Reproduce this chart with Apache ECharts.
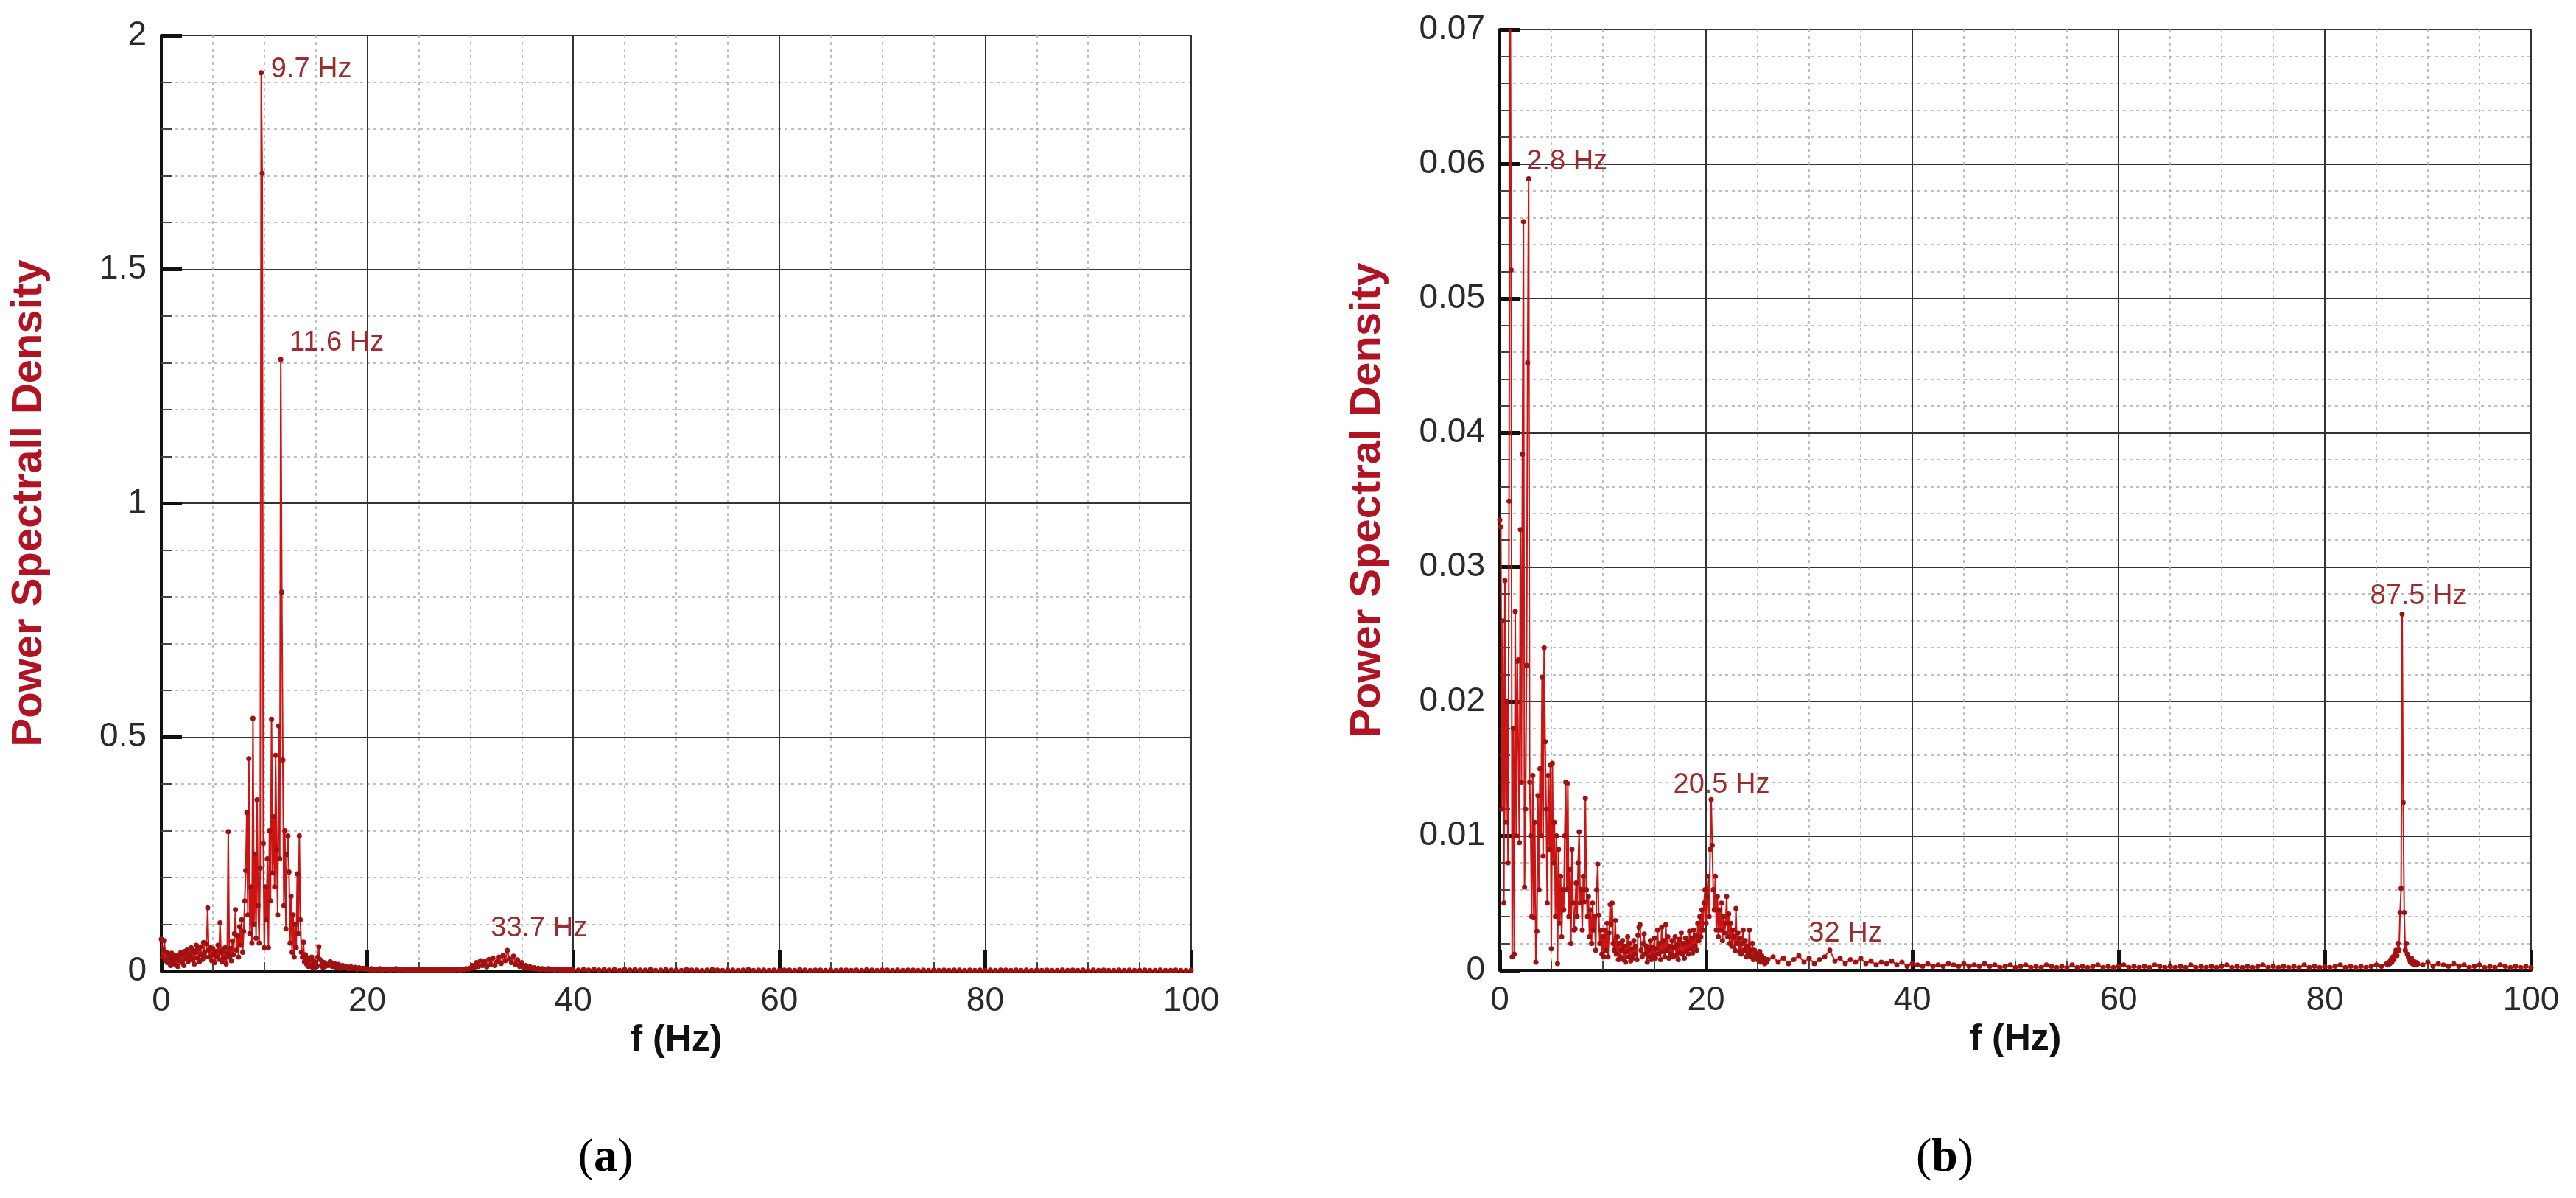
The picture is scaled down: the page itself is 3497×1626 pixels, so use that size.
<!DOCTYPE html>
<html><head><meta charset="utf-8">
<script src="https://cdn.jsdelivr.net/npm/echarts@6/dist/echarts.min.js"></script>
<style>html,body{margin:0;padding:0;background:#fff}#c{width:3497px;height:1626px}</style>
</head><body><div id="c"></div>
<script>
// ---------- DATA ----------
const xTicks = [0, 20, 40, 60, 80, 100];
const yTicksA = [0, 0.5, 1, 1.5, 2];
const yTicksB = [0, 0.01, 0.02, 0.03, 0.04, 0.05, 0.06, 0.07];

// Plot (a): PSD, bins 0.0..16.0 Hz every 0.1 Hz
const psdA_0_16 = [
 0.068,0.030,0.045,0.065,0.022,0.040,0.018,0.035,0.028,0.012,
 0.038,0.020,0.030,0.015,0.034,0.025,0.010,0.032,0.022,0.040,
 0.018,0.036,0.012,0.042,0.026,0.045,0.020,0.038,0.030,0.050,
 0.024,0.044,0.015,0.040,0.055,0.028,0.048,0.020,0.052,0.035,
 0.025,0.061,0.040,0.030,0.058,0.135,0.045,0.030,0.050,0.022,
 0.048,0.035,0.018,0.042,0.030,0.055,0.025,0.103,0.040,0.020,
 0.045,0.028,0.050,0.015,0.038,0.298,0.030,0.048,0.022,0.064,
 0.035,0.080,0.131,0.045,0.075,0.030,0.095,0.055,0.110,0.040,
 0.085,0.150,0.215,0.339,0.120,0.454,0.080,0.180,0.060,0.540,
 0.100,0.250,0.070,0.366,0.140,0.060,0.220,1.920,1.705,0.273,
 0.050,0.180,0.110,0.240,0.050,0.300,0.150,0.538,0.210,0.330,
 0.180,0.461,0.260,0.120,0.524,0.240,1.307,0.810,0.451,0.140,
 0.300,0.090,0.249,0.289,0.212,0.060,0.160,0.040,0.120,0.030,
 0.100,0.050,0.208,0.080,0.289,0.110,0.040,0.030,0.062,0.020,
 0.035,0.015,0.028,0.010,0.025,0.012,0.030,0.008,0.022,0.015,
 0.018,0.010,0.030,0.052,0.025,0.012,0.020,0.008,0.018,0.010,
 0.015];
// bins 16.2..40.0 Hz every 0.2 Hz
const psdA_16_40 = [
 .012,.020,.010,.016,.008,.014,.006,.012,.007,.010,.005,.009,.006,.008,.004,.007,.005,.006,.004,.005,
 .003,.005,.002,.004,.003,.005,.002,.004,.003,.004,.002,.004,.003,.005,.002,.003,.004,.002,.003,.002,
 .003,.002,.004,.002,.003,.002,.003,.002,.004,.002,.003,.002,.003,.002,.003,.002,.004,.002,.003,.002,
 .003,.002,.004,.003,.002,.004,.003,.005,.004,.006,.012,.008,.018,.010,.022,.012,.020,.009,.025,.014,
 .028,.012,.020,.030,.016,.034,.022,.044,.026,.018,.032,.014,.024,.010,.018,.008,.012,.006,.009,.005,
 .007,.004,.006,.003,.005,.004,.003,.005,.003,.004,.002,.004,.003,.002,.004,.002,.003,.002,.003,.002];
// bins 40.5..100 Hz every 0.5 Hz
const psdA_40_100 = [
 .002,.003,.002,.004,.002,.003,.002,.003,.001,.003,
 .002,.003,.002,.002,.003,.001,.002,.003,.002,.002,
 .001,.003,.002,.002,.001,.002,.003,.002,.001,.002,
 .002,.001,.002,.003,.001,.002,.002,.001,.002,.001,
 .002,.002,.001,.003,.002,.001,.002,.002,.001,.002,
 .001,.002,.002,.001,.002,.001,.003,.002,.001,.002,
 .002,.001,.002,.001,.002,.002,.001,.002,.001,.002,
 .001,.002,.001,.002,.002,.001,.002,.001,.002,.001,
 .002,.001,.002,.002,.001,.002,.001,.002,.001,.002,
 .001,.002,.001,.001,.002,.001,.002,.001,.002,.001,
 .002,.001,.002,.001,.001,.002,.001,.002,.001,.001,
 .002,.001,.001,.002,.001,.001,.002,.001,.001,.002];

// Plot (b): bins 0.0..26.0 Hz every 0.1 Hz
const psdB_0_26 = [
 .0335,.0330,.0120,.0260,.0050,.0290,.0110,.0200,.0080,.0349,
 .0780,.0521,.0010,.0180,.0012,.0267,.0100,.0230,.0231,.0095,
 .0328,.0140,.0384,.0557,.0062,.0120,.0227,.0452,.0589,.0140,
 .0100,.0040,.0145,.0039,.0110,.0006,.0029,.0130,.0060,.0150,
 .0100,.0218,.0085,.0240,.0170,.0120,.0050,.0145,.0090,.0153,
 .0016,.0154,.0080,.0110,.0040,.0100,.0005,.0090,.0035,.0070,
 .0025,.0060,.0045,.0100,.0140,.0060,.0139,.0040,.0075,.0020,
 .0090,.0050,.0030,.0031,.0065,.0040,.0080,.0103,.0050,.0060,
 .0030,.0070,.0051,.0128,.0060,.0040,.0055,.0025,.0045,.0020,
 .0050,.0030,.0040,.0015,.0060,.0079,.0041,.0020,.0030,.0012,
 .0025,.0010,.0030,.0015,.0035,.0010,.0028,.0049,.0034,.0050,
 .0020,.0015,.0037,.0012,.0025,.0008,.0020,.0010,.0015,.0022,
 .0008,.0018,.0006,.0014,.0025,.0010,.0020,.0007,.0016,.0009,
 .0022,.0012,.0018,.0008,.0026,.0032,.0034,.0015,.0010,.0020,
 .0027,.0012,.0018,.0006,.0015,.0010,.0022,.0008,.0017,.0011,
 .0024,.0009,.0016,.0030,.0012,.0020,.0008,.0032,.0014,.0022,
 .0010,.0034,.0015,.0025,.0009,.0018,.0012,.0022,.0010,.0017,
 .0025,.0011,.0019,.0008,.0023,.0013,.0028,.0012,.0020,.0009,
 .0024,.0014,.0021,.0012,.0029,.0016,.0024,.0013,.0030,.0018,
 .0026,.0015,.0035,.0022,.0040,.0025,.0045,.0030,.0050,.0060,
 .0035,.0055,.0070,.0040,.0090,.0127,.0093,.0060,.0045,.0070,
 .0030,.0055,.0025,.0045,.0030,.0050,.0022,.0040,.0028,.0035,
 .0055,.0025,.0042,.0020,.0035,.0018,.0030,.0025,.0015,.0046,
 .0020,.0028,.0014,.0024,.0012,.0020,.0030,.0015,.0022,.0010,
 .0018,.0012,.0030,.0015,.0010,.0020,.0008,.0015,.0010,.0012,
 .0008,.0010,.0014,.0006,.0011,.0007,.0009,.0005,.0008,.0006,
 .0008];
// bins 26.5..86.0 Hz every 0.5 Hz
const psdB_26_86 = [
 .0010,.0006,.0009,.0005,.0008,.0011,.0006,.0009,.0005,.0008,.0010,.0015,.0007,.0009,.0005,.0008,.0006,.0009,.0005,.0007,
 .0004,.0006,.0005,.0007,.0004,.0006,.0003,.0005,.0004,.0003,.0005,.0003,.0004,.0003,.0005,.0004,.0003,.0005,.0003,.0004,
 .0003,.0005,.0003,.0004,.0002,.0003,.0004,.0002,.0003,.0004,.0002,.0003,.0002,.0004,.0003,.0002,.0003,.0002,.0004,.0002,
 .0003,.0002,.0003,.0004,.0002,.0003,.0002,.0003,.0004,.0002,.0003,.0002,.0003,.0002,.0004,.0003,.0002,.0003,.0002,.0003,
 .0002,.0004,.0002,.0003,.0002,.0003,.0002,.0003,.0004,.0002,.0003,.0002,.0003,.0002,.0003,.0004,.0002,.0003,.0002,.0003,
 .0002,.0003,.0002,.0004,.0002,.0003,.0002,.0003,.0002,.0003,.0004,.0002,.0003,.0002,.0003,.0002,.0003,.0004,.0003,.0005];
// bins 86.1..89.0 Hz every 0.1 Hz
const psdB_86_89 = [
 .0004,.0006,.0005,.0008,.0006,.0010,.0008,.0012,.0015,.0011,
 .0020,.0015,.0043,.0061,.0265,.0125,.0043,.0015,.0020,.0012,
 .0010,.0008,.0006,.0009,.0005,.0007,.0004,.0006,.0004,.0005];
// bins 89.5..100 Hz every 0.5 Hz
const psdB_89_100 = [
 .0004,.0006,.0003,.0005,.0004,.0003,.0005,.0003,.0004,.0002,.0003,
 .0004,.0002,.0003,.0002,.0004,.0003,.0002,.0003,.0002,.0003,.0002];

// Peak annotations: [text, frequency, value]
const peaksA = [['9.7 Hz', 9.7, 1.92], ['11.6 Hz', 11.6, 1.307], ['33.7 Hz', 33.6, 0.044]];
const peaksB = [['2.8 Hz', 2.8, 0.0589], ['20.5 Hz', 20.5, 0.0127], ['32 Hz', 32, 0.0015], ['87.5 Hz', 87.5, 0.0265]];

// ---------- BUILD ----------
function seg(f0, df, vals) { return vals.map((v, i) => [Math.round((f0 + i * df) * 100) / 100, v]); }
const ptsA = [].concat(seg(0, 0.1, psdA_0_16), seg(16.2, 0.2, psdA_16_40), seg(40.5, 0.5, psdA_40_100));
const ptsB = [].concat(seg(0, 0.1, psdB_0_26), seg(26.5, 0.5, psdB_26_86), seg(86.1, 0.1, psdB_86_89), seg(89.5, 0.5, psdB_89_100));

const offA = [[68, -4], [76, -23], [43, -30]];
const offB = [[52, -23], [14, -20], [21, -22], [22, -24]];

const FONT = 'Liberation Sans, Arial, sans-serif';
const RED = '#cc1414';
const ANN = '#9e2b2b';

function xAxis(gi) {
  return {
    type: 'value', gridIndex: gi, min: xTicks[0], max: xTicks[xTicks.length - 1], interval: xTicks[1] - xTicks[0],
    name: 'f (Hz)', nameLocation: 'middle', nameGap: 66,
    nameTextStyle: { fontSize: 50, fontWeight: 'bold', color: '#111', fontFamily: FONT },
    axisLine: { show: true, onZero: false, lineStyle: { color: '#111', width: 4 } },
    axisTick: { show: true, inside: true, length: 28, lineStyle: { color: '#111', width: 5 } },
    minorTick: { show: true, splitNumber: 4, length: 12, lineStyle: { color: '#444', width: 2 } },
    splitLine: { show: true, lineStyle: { color: '#333', width: 2 } },
    minorSplitLine: { show: true, lineStyle: { color: '#aaa', width: 1.5, type: [4, 5] } },
    axisLabel: { fontSize: 46, color: '#2a2a2a', margin: 18, fontFamily: FONT }
  };
}
function yAxis(gi, ticks, name) {
  return {
    type: 'value', gridIndex: gi, min: ticks[0], max: ticks[ticks.length - 1], interval: ticks[1] - ticks[0],
    name: name, nameLocation: 'middle', nameGap: 150,
    nameTextStyle: { fontSize: 58, fontWeight: 'bold', color: '#b01424', fontFamily: FONT },
    axisLine: { show: true, onZero: false, lineStyle: { color: '#111', width: 4 } },
    axisTick: { show: true, inside: true, length: 28, lineStyle: { color: '#111', width: 5 } },
    minorTick: { show: true, splitNumber: 5, length: 14, lineStyle: { color: '#444', width: 2 } },
    splitLine: { show: true, lineStyle: { color: '#333', width: 2 } },
    minorSplitLine: { show: true, lineStyle: { color: '#aaa', width: 1.5, type: [4, 5] } },
    axisLabel: { fontSize: 46, color: '#2a2a2a', margin: 20, fontFamily: FONT }
  };
}
function lineSeries(gi, pts, peaks, offs) {
  return {
    type: 'line', xAxisIndex: gi, yAxisIndex: gi, data: pts,
    symbol: 'circle', symbolSize: 7, showSymbol: true, clip: true,
    lineStyle: { color: RED, width: 2 },
    itemStyle: { color: '#a01212' },
    animation: false,
    markPoint: {
      symbol: 'circle', symbolSize: 1, itemStyle: { color: 'rgba(0,0,0,0)' },
      label: { show: true, position: 'inside', formatter: '{b}', color: ANN, fontSize: 38, fontFamily: FONT },
      data: peaks.map((p, i) => ({ name: p[0], coord: [p[1], p[2]], label: { offset: offs[i] } }))
    }
  };
}

const chart = echarts.init(document.getElementById('c'), null, { renderer: 'canvas' });
chart.setOption({
  backgroundColor: '#fff',
  animation: false,
  grid: [
    { left: 219, top: 48, width: 1398, height: 1270, outerBoundsMode: 'none' },
    { left: 2036, top: 40, width: 1400, height: 1277, outerBoundsMode: 'none' }
  ],
  xAxis: [xAxis(0), xAxis(1)],
  yAxis: [yAxis(0, yTicksA, 'Power Spectrall Density'), yAxis(1, yTicksB, 'Power Spectral Density')],
  series: [lineSeries(0, ptsA, peaksA, offA), lineSeries(1, ptsB, peaksB, offB)],
  graphic: [
    { type: 'text', x: 822, y: 1572, style: { text: '{p|(}{b|a}{p|)}', align: 'center', verticalAlign: 'middle',
      rich: { p: { fontFamily: 'Liberation Serif', fontSize: 64, fill: '#000' }, b: { fontFamily: 'Liberation Serif', fontSize: 64, fontWeight: 'bold', fill: '#000' } } } },
    { type: 'text', x: 2640, y: 1572, style: { text: '{p|(}{b|b}{p|)}', align: 'center', verticalAlign: 'middle',
      rich: { p: { fontFamily: 'Liberation Serif', fontSize: 64, fill: '#000' }, b: { fontFamily: 'Liberation Serif', fontSize: 64, fontWeight: 'bold', fill: '#000' } } } }
  ]
});
</script>
</body></html>
